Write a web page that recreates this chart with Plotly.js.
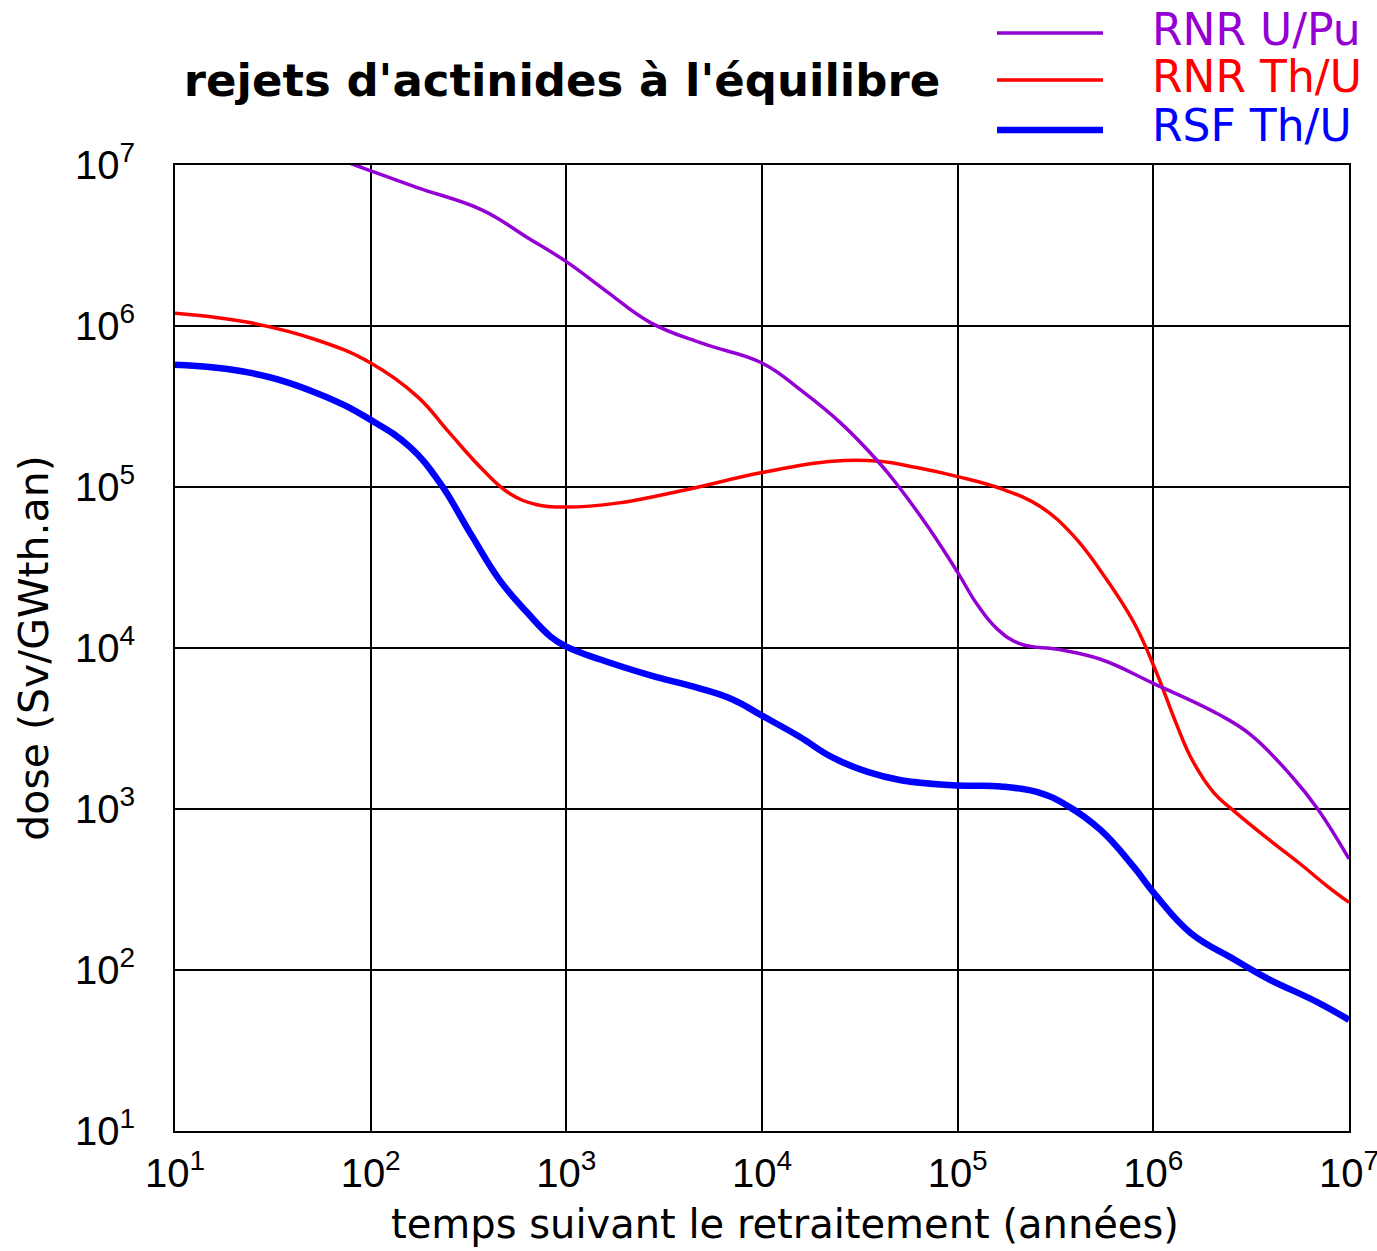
<!DOCTYPE html>
<html>
<head>
<meta charset="utf-8">
<script src="https://cdn.plot.ly/plotly-3.0.1.min.js"></script>
<style>html,body{margin:0;padding:0;background:#fff;}#chart{width:1377px;height:1251px;}</style>
</head>
<body>
<div id="chart"></div>
<script>
// ---- data ----
const chartTitle = "rejets d'actinides à l'équilibre";
const xTitle = "temps suivant le retraitement (années)";
const yTitle = "dose (Sv/GWth.an)";

const seriesNames = ["RNR U/Pu", "RNR Th/U", "RSF Th/U"];
const seriesColors = ["#9400D3", "#FF0000", "#0000FF"];

// RNR U/Pu (purple)
const tUPu = [10, 31.6, 83, 100, 173, 372, 631, 1000, 1585, 2690, 5012, 10000, 15850, 25120, 39810, 50120, 70790, 100000, 125900, 158500, 209000, 331000, 537000, 1000000, 2140000, 3160000, 5130000, 6920000, 10000000];
const dUPu = [2.2e7, 1.48e7, 1.0e7, 9.2e6, 7.24e6, 5.25e6, 3.55e6, 2.51e6, 1.66e6, 1.05e6, 7.76e5, 5.89e5, 3.98e5, 2.51e5, 1.41e5, 1.0e5, 5.62e4, 2.95e4, 1.86e4, 1.32e4, 1.06e4, 9.77e3, 8.51e3, 6.03e3, 3.89e3, 2.88e3, 1.58e3, 1.0e3, 490];

// RNR Th/U (red)
const tRNRThU = [10, 24, 54, 100, 174, 251, 372, 513, 708, 1000, 1820, 3981, 10000, 22900, 39810, 61660, 100000, 166000, 263000, 389000, 537000, 794000, 1020000, 1320000, 1585000, 2040000, 2570000, 3800000, 5620000, 7760000, 10000000];
const dRNRThU = [1.2e6, 1.05e6, 8.13e5, 5.89e5, 3.63e5, 2.19e5, 1.29e5, 9.12e4, 7.76e4, 7.5e4, 7.94e4, 9.55e4, 1.23e5, 1.445e5, 1.445e5, 1.32e5, 1.16e5, 9.77e4, 7.59e4, 5.01e4, 3.02e4, 1.445e4, 7.41e3, 3.31e3, 2.0e3, 1.26e3, 977, 661, 457, 331, 263];

// RSF Th/U (blue)
const tRSFThU = [10, 24, 54, 100, 158, 226, 324, 457, 631, 832, 1000, 1479, 2690, 4786, 7079, 10000, 15490, 22910, 34670, 51290, 100000, 166000, 263000, 363000, 537000, 794000, 1020000, 1550000, 2570000, 3800000, 6920000, 10000000];
const dRSFThU = [5.75e5, 5.13e5, 3.8e5, 2.61e5, 1.78e5, 1.06e5, 5.13e4, 2.63e4, 1.66e4, 1.175e4, 1.02e4, 8.51e3, 6.76e3, 5.62e3, 4.79e3, 3.8e3, 2.82e3, 2.09e3, 1.7e3, 1.51e3, 1.4e3, 1.38e3, 1.26e3, 1.05e3, 741, 437, 295, 170, 117, 89, 63, 49];

const tickVals = [10, 100, 1000, 10000, 100000, 1000000, 10000000];
const tickText = ["10<sup>1</sup>", "10<sup>2</sup>", "10<sup>3</sup>", "10<sup>4</sup>", "10<sup>5</sup>", "10<sup>6</sup>", "10<sup>7</sup>"];

// ---- chart ----
const W = 1377, H = 1251;
const M = {l: 175, r: 28, t: 165, b: 120};
const plotW = W - M.l - M.r, plotH = H - M.t - M.b;
const px2paperX = p => (p - M.l) / plotW;
const px2paperY = p => (H - M.b - p) / plotH;

const xs = [tUPu, tRNRThU, tRSFThU];
const ys = [dUPu, dRNRThU, dRSFThU];
const widths = [3.5, 3.5, 6.5];

const traces = xs.map((x, i) => ({
  type: 'scatter', mode: 'lines', x: x, y: ys[i], name: seriesNames[i],
  line: {color: seriesColors[i], width: widths[i], shape: 'spline', smoothing: 1.2},
  showlegend: false, hoverinfo: 'skip'
}));
// draw blue first, then red, then purple on top
const ordered = [traces[2], traces[1], traces[0]];

const legendY = [33, 80, 130];
const shapes = seriesNames.map((n, i) => ({
  type: 'line', xref: 'paper', yref: 'paper',
  x0: px2paperX(997), x1: px2paperX(1103), y0: px2paperY(legendY[i]), y1: px2paperY(legendY[i]),
  line: {color: seriesColors[i], width: widths[i]}
}));
const annotations = seriesNames.map((n, i) => ({
  xref: 'paper', yref: 'paper', x: px2paperX(1150), y: px2paperY(legendY[i] - 4),
  xanchor: 'left', yanchor: 'middle', showarrow: false, text: n,
  font: {family: 'DejaVu Sans, Verdana, sans-serif', size: 44, color: seriesColors[i]}
}));
// x-axis title, placed as in the reference (slightly right of the plot centre)
annotations.push({
  xref: 'paper', yref: 'paper', x: px2paperX(785), y: px2paperY(1224),
  xanchor: 'center', yanchor: 'middle', showarrow: false, text: xTitle,
  font: {family: 'DejaVu Sans, Verdana, sans-serif', size: 40, color: '#000'}
});

const axisCommon = {
  type: 'log', range: [1, 7],
  tickvals: tickVals, ticktext: tickText,
  showgrid: true, gridcolor: '#000', gridwidth: 2,
  showline: true, linecolor: '#000', linewidth: 2, mirror: true,
  ticks: '', zeroline: false,
  ticklabeloverflow: 'allow',
  tickfont: {family: 'Liberation Sans, Arial, sans-serif', size: 40, color: '#000'}
};

const layout = {
  width: W, height: H,
  margin: M,
  paper_bgcolor: '#fff', plot_bgcolor: '#fff',
  title: {
    text: '<b>' + chartTitle + '</b>',
    xref: 'container', yref: 'container',
    x: 562 / W, xanchor: 'center', y: 1 - 80 / H, yanchor: 'middle',
    font: {family: 'DejaVu Sans, Verdana, sans-serif', size: 45, color: '#000'}
  },
  xaxis: Object.assign({}, axisCommon, {
    ticklabelstandoff: 6
  }),
  yaxis: Object.assign({}, axisCommon, {
    ticklabelstandoff: 30,
    title: {text: yTitle, standoff: 14, font: {family: 'DejaVu Sans, Verdana, sans-serif', size: 41, color: '#000'}}
  }),
  shapes: shapes,
  annotations: annotations,
  showlegend: false
};

Plotly.newPlot('chart', ordered, layout, {displayModeBar: false, staticPlot: true});
</script>
</body>
</html>
